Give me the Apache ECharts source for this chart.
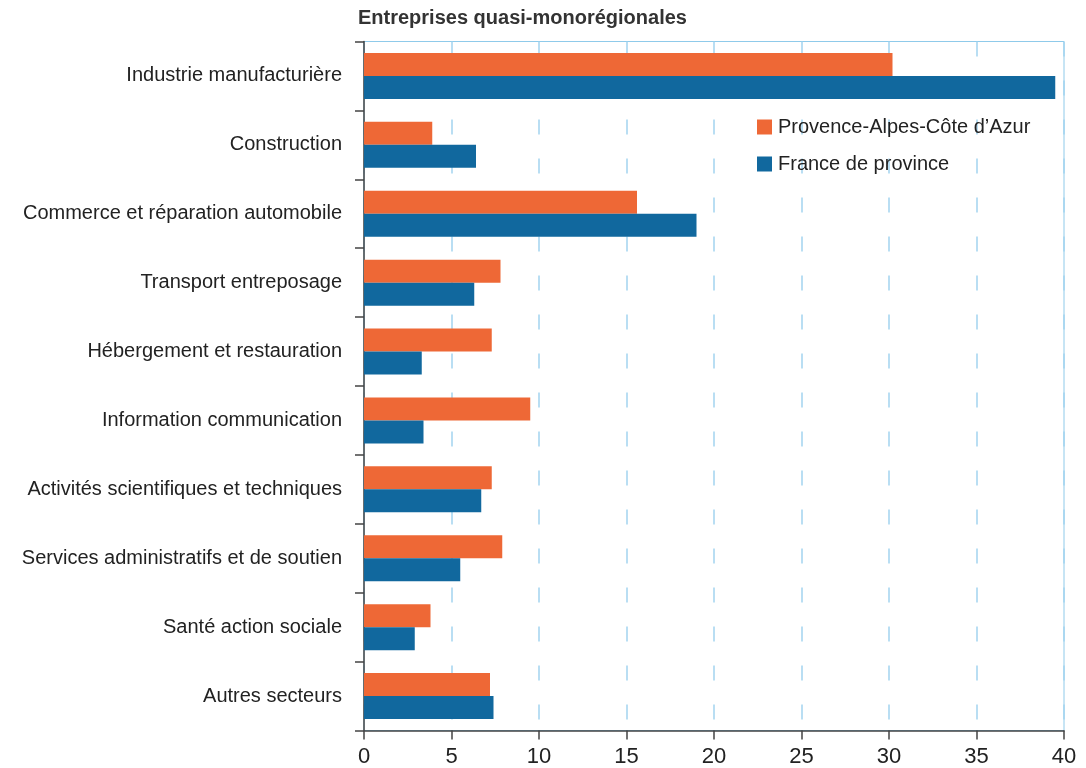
<!DOCTYPE html>
<html>
<head>
<meta charset="utf-8">
<script src="https://cdn.jsdelivr.net/npm/echarts@6/dist/echarts.min.js"></script>
<style>
html,body{margin:0;padding:0;background:#fff;}
#chart{width:1086px;height:768px;}
</style>
</head>
<body>
<div id="chart"></div>
<script>
const categories = [
  "Industrie manufacturière",
  "Construction",
  "Commerce et réparation automobile",
  "Transport entreposage",
  "Hébergement et restauration",
  "Information communication",
  "Activités scientifiques et techniques",
  "Services administratifs et de soutien",
  "Santé action sociale",
  "Autres secteurs"
];
const pacaValues = [30.2, 3.9, 15.6, 7.8, 7.3, 9.5, 7.3, 7.9, 3.8, 7.2];
const provinceValues = [39.5, 6.4, 19.0, 6.3, 3.3, 3.4, 6.7, 5.5, 2.9, 7.4];
const seriesNames = ["Provence-Alpes-Côte d’Azur", "France de province"];
const xTicks = [0, 5, 10, 15, 20, 25, 30, 35, 40];

const FONT = '"Liberation Sans", Arial, sans-serif';
const chart = echarts.init(document.getElementById('chart'), null, {renderer: 'canvas'});
chart.setOption({
  animation: false,
  backgroundColor: '#ffffff',
  title: {
    text: 'Entreprises quasi-monorégionales',
    left: 358, top: 8, padding: 0,
    textStyle: {fontFamily: FONT, fontWeight: 'bold', fontSize: 20, color: '#333333'}
  },
  legend: {
    orient: 'vertical',
    left: 757, top: 117, padding: 0,
    itemWidth: 15, itemHeight: 15, itemGap: 17,
    icon: 'rect',
    textStyle: {fontFamily: FONT, fontSize: 20, color: '#222222', padding: [0,0,0,1]},
    data: seriesNames
  },
  grid: {
    left: 364, right: 22, top: 41.5, bottom: 37.5,
    outerBoundsMode: 'none', containLabel: false,
    show: true, borderColor: '#8fcaea', borderWidth: 1, backgroundColor: 'transparent'
  },
  xAxis: {
    type: 'value',
    min: 0, max: 40, interval: 5,
    axisLine: {show: true, lineStyle: {color: '#444444', width: 1.5}},
    axisTick: {show: true, length: 9, lineStyle: {color: '#444444', width: 1.5}},
    axisLabel: {
      fontFamily: FONT, fontSize: 22, color: '#222222', margin: 15,
      formatter: v => xTicks.includes(v) ? String(v) : ''
    },
    splitLine: {show: true, lineStyle: {color: '#a3d4f0', width: 1.5, type: [15, 24]}}
  },
  yAxis: {
    type: 'category',
    inverse: true,
    data: categories,
    axisLine: {show: true, lineStyle: {color: '#444444', width: 1.5}},
    axisTick: {show: true, length: 9, lineStyle: {color: '#444444', width: 1.5}},
    axisLabel: {fontFamily: FONT, fontSize: 20, color: '#222222', margin: 22}
  },
  series: [
    {
      name: seriesNames[0], type: 'bar', data: pacaValues,
      barWidth: 23, barGap: '0%',
      itemStyle: {color: '#ee6836'}
    },
    {
      name: seriesNames[1], type: 'bar', data: provinceValues,
      barWidth: 23, barGap: '0%',
      itemStyle: {color: '#11689e'}
    }
  ]
});
</script>
</body>
</html>
